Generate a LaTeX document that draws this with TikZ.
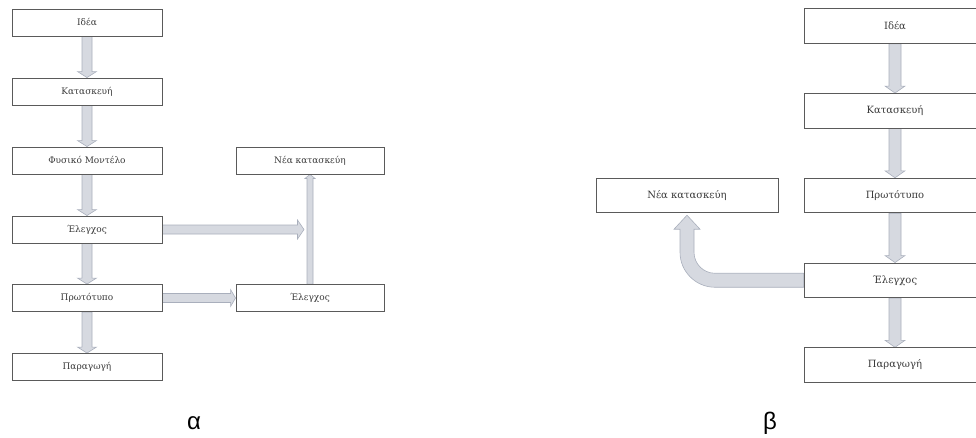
\documentclass[tikz,border=0pt]{standalone}
\usepackage{fontspec}
\setmainfont{DejaVu Serif}
\newfontfamily\labfont{Liberation Sans}
\usetikzlibrary{calc,backgrounds}
\definecolor{afill}{HTML}{D6D9E0}
\definecolor{aedge}{HTML}{A9AFBC}
\definecolor{bedge}{HTML}{5A5A5A}
\definecolor{btext}{HTML}{3A3A3A}
\tikzset{
  boxL/.style={draw=bedge, line width=0.9pt, fill=white, minimum width=150pt,
    minimum height=27pt, inner sep=0pt, text=btext, font=\fontsize{9}{10}\selectfont},
  boxR/.style={draw=bedge, line width=0.9pt, fill=white, minimum width=182pt,
    minimum height=34.5pt, inner sep=0pt, text=btext, font=\fontsize{10}{12}\selectfont},
  bshape/.style={fill=afill, draw=aedge, line width=0.6pt, line join=miter},
  barrow/.style n args={3}{bshape, to path={
    ($(\tikztostart)!#1!90:(\tikztotarget)$)
    -- ($(\tikztotarget)!#3!(\tikztostart)!#1!90:(\tikztotarget)$)
    -- ($(\tikztotarget)!#3!(\tikztostart)!#2!90:(\tikztotarget)$)
    -- (\tikztotarget)
    -- ($(\tikztotarget)!#3!(\tikztostart)!#2!-90:(\tikztotarget)$)
    -- ($(\tikztotarget)!#3!(\tikztostart)!#1!-90:(\tikztotarget)$)
    -- ($(\tikztostart)!#1!-90:(\tikztotarget)$)
    -- cycle}},
  sublabel/.style={anchor=base, font=\labfont\fontsize{24}{26}\selectfont, text=black}
}
\begin{document}
\begin{tikzpicture}[x=1pt,y=-1pt]
\clip (0,0) rectangle (976,437);
% left diagram
\node[boxL] (i1) at (87,22.5) {Ιδέα};
\node[boxL] (k1) at (87,91.5) {Κατασκευή};
\node[boxL] (f1) at (87,160.5) {Φυσικό Μοντέλο};
\node[boxL] (e1) at (87,229.5) {Έλεγχος};
\node[boxL] (p1) at (87,298) {Πρωτότυπο};
\node[boxL] (g1) at (87,367) {Παραγωγή};
\node[boxL, minimum width=148pt] (n1) at (310,160.5) {Νέα κατασκεύη};
\node[boxL, minimum width=148pt] (e2) at (310,298) {Έλεγχος};
\coordinate (c1) at (304,229.5);
% right diagram
\node[boxR] (i2) at (895,26) {Ιδέα};
\node[boxR] (k2) at (895,110.75) {Κατασκευή};
\node[boxR] (p2) at (895,195.5) {Πρωτότυπο};
\node[boxR] (e3) at (895,280.25) {Έλεγχος};
\node[boxR] (g2) at (895,365) {Παραγωγή};
\node[boxR] (n2) at (687,195.5) {Νέα κατασκεύη};
\coordinate (C) at (n2.south |- e3.west);
\begin{scope}[on background layer]
\draw[barrow={5pt}{9.5pt}{6pt}] (i1.south) to (k1.north);
\draw[barrow={5pt}{9.5pt}{6pt}] (k1.south) to (f1.north);
\draw[barrow={5pt}{9.5pt}{6pt}] (f1.south) to (e1.north);
\draw[barrow={5pt}{9.5pt}{6pt}] (e1.south) to (p1.north);
\draw[barrow={5pt}{9.5pt}{6pt}] (p1.south) to (g1.north);
\draw[barrow={4.5pt}{9.5pt}{6.5pt}] (e1.east) to (c1);
\draw[barrow={4.5pt}{8.5pt}{5pt}] (p1.east) to (e2.west);
\draw[barrow={3pt}{5pt}{4pt}] (e2.north) to (n1.south);
\draw[barrow={6pt}{10pt}{7pt}] (i2.south) to (k2.north);
\draw[barrow={6pt}{10pt}{7pt}] (k2.south) to (p2.north);
\draw[barrow={6pt}{10pt}{7pt}] (p2.south) to (e3.north);
\draw[barrow={6pt}{10pt}{7pt}] (e3.south) to (g2.north);
\draw[bshape] ($(e3.west)+(0,-7)$) -- ($(C)+(28,-7)$)
  .. controls ($(C)+(16.4,-7)$) and ($(C)+(7,-16.4)$) .. ($(C)+(7,-28)$)
  -- ($(n2.south)+(7,16)$) -- ($(n2.south)+(13,16)$) -- ($(n2.south)+(0,2)$)
  -- ($(n2.south)+(-13,16)$) -- ($(n2.south)+(-7,16)$) -- ($(C)+(-7,-28)$)
  .. controls ($(C)+(-7,-8.7)$) and ($(C)+(8.7,7)$) .. ($(C)+(28,7)$)
  -- ($(e3.west)+(0,7)$) -- cycle;
\end{scope}
\node[sublabel] (la) at (194,429) {α};
\node[sublabel] (lb) at (770,429) {β};
\end{tikzpicture}
\end{document}
